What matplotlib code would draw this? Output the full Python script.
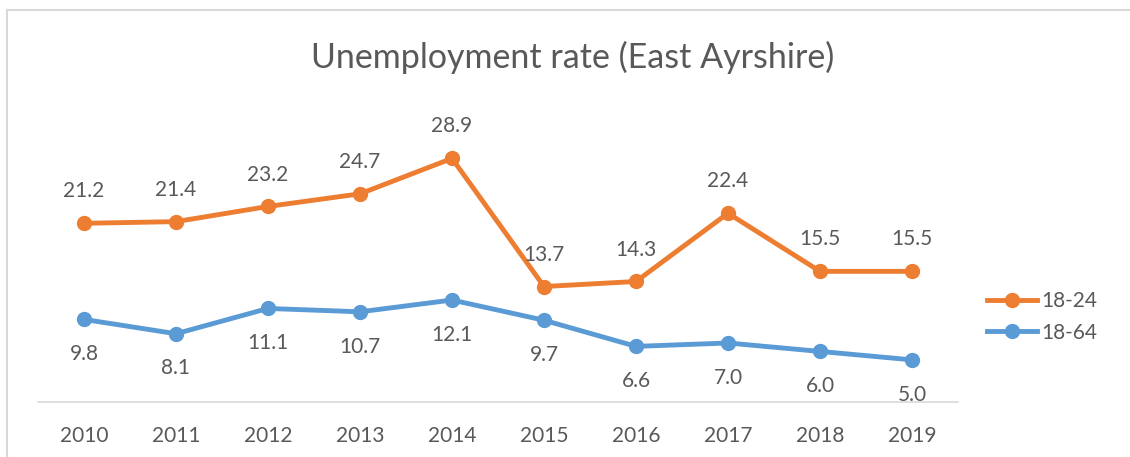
import matplotlib.pyplot as plt
from matplotlib.lines import Line2D

years = ["2010", "2011", "2012", "2013", "2014", "2015", "2016", "2017", "2018", "2019"]
rate_18_24 = [21.2, 21.4, 23.2, 24.7, 28.9, 13.7, 14.3, 22.4, 15.5, 15.5]
rate_18_64 = [9.8, 8.1, 11.1, 10.7, 12.1, 9.7, 6.6, 7.0, 6.0, 5.0]

orange = "#ED7D31"
blue = "#5B9BD5"
grey = "#595959"

plt.rcParams['font.family'] = ['Lato', 'DejaVu Sans']

fig = plt.figure(figsize=(11.3, 4.57), dpi=100)
ax = fig.add_axes([38 / 1130, 55 / 457, 920 / 1130, 295 / 457])

x = list(range(len(years)))
ax.plot(x, rate_18_24, color=orange, lw=3.5, marker="o", ms=10, solid_capstyle="round")
ax.plot(x, rate_18_64, color=blue, lw=3.5, marker="o", ms=10, solid_capstyle="round")

for i, v in enumerate(rate_18_24):
    ax.annotate(f"{v:.1f}", (i, v), xytext=(0, 23), textcoords="offset points",
                ha="center", va="center", fontsize=15, color=grey)
for i, v in enumerate(rate_18_64):
    ax.annotate(f"{v:.1f}", (i, v), xytext=(0, -25), textcoords="offset points",
                ha="center", va="center", fontsize=15, color=grey)

ax.set_xlim(-0.5, len(years) - 0.5)
ax.set_ylim(0, 35)
ax.set_xticks(x)
ax.set_xticklabels(years, fontsize=15, color=grey)
ax.set_yticks([])
ax.tick_params(axis="x", length=0, pad=17)
for side in ["top", "right", "left"]:
    ax.spines[side].set_visible(False)
ax.spines["bottom"].set_color("#D9D9D9")
ax.spines["bottom"].set_linewidth(1.2)

fig.text(573 / 1130, 1 - 57 / 457, "Unemployment rate (East Ayrshire)",
         ha="center", va="center", fontsize=24.5, color=grey)

handles = [Line2D([], [], color=orange, lw=3.5, marker="o", ms=10),
           Line2D([], [], color=blue, lw=3.5, marker="o", ms=10)]
fig.legend(handles, ["18-24", "18-64"], loc="center left",
           bbox_to_anchor=(968 / 1130, 1 - 317 / 457), frameon=False,
           fontsize=15, labelcolor=grey, handlelength=2.4,
           handletextpad=0.2, labelspacing=0.55)

# chart area border (top and left visible in the crop)
fig.add_artist(Line2D([7 / 1130, 7 / 1130], [0, 1 - 10 / 457], color="#D9D9D9", lw=1.5))
fig.add_artist(Line2D([7 / 1130, 1], [1 - 10 / 457, 1 - 10 / 457], color="#D9D9D9", lw=1.5))

fig.savefig("out.png", dpi=100)
